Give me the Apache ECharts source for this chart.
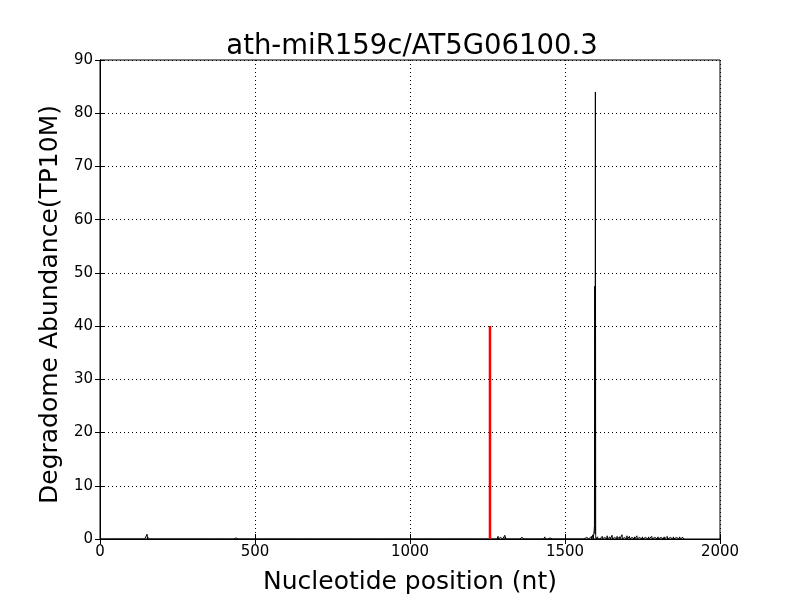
<!DOCTYPE html>
<html>
<head>
<meta charset="utf-8">
<script src="https://cdn.jsdelivr.net/npm/echarts@6/dist/echarts.min.js"></script>
<style>html,body{margin:0;padding:0;background:#fff}#c{width:800px;height:600px}</style>
</head>
<body>
<div id="c"></div>
<script>
const chartTitle = 'ath-miR159c/AT5G06100.3';
const xLabel = 'Nucleotide position (nt)';
const yLabel = 'Degradome Abundance(TP10M)';
const xTicks = [0, 500, 1000, 1500, 2000];
const yTicks = [0, 10, 20, 30, 40, 50, 60, 70, 80, 90];
const transcriptLength = 1885;
// nonzero degradome reads (position, abundance)
const readPositions = [65, 152, 154, 248, 439, 1268, 1284, 1292, 1306, 1308, 1320, 1361, 1400, 1435, 1452, 1474, 1503, 1520, 1548, 1570, 1585, 1590, 1594, 1595, 1596, 1597, 1598, 1599,
  1605, 1612, 1620, 1628, 1636, 1645, 1652, 1660, 1668, 1676, 1684, 1692, 1700, 1708, 1716, 1724, 1732, 1740, 1750, 1760, 1770, 1780, 1790, 1800, 1810, 1820, 1830, 1840, 1850, 1860, 1870, 1880];
const readValues = [0.2, 0.9, 0.4, 0.2, 0.2, 0.2, 0.5, 0.3, 0.7, 0.4, 0.2, 0.3, 0.2, 0.4, 0.2, 0.3, 0.3, 0.2, 0.3, 0.3, 0.5, 0.8, 1.5, 2.5, 47.5, 1.0, 84.0, 0.6,
  0.4, 0.3, 0.5, 0.3, 0.6, 0.4, 0.7, 0.3, 0.5, 0.4, 0.8, 0.3, 0.6, 0.5, 0.3, 0.4, 0.6, 0.3, 0.4, 0.3, 0.4, 0.5, 0.3, 0.4, 0.3, 0.4, 0.5, 0.3, 0.4, 0.3, 0.4, 0.3];
const cleavagePosition = 1258;
const cleavageAbundance = 40;

const lookup = {};
readPositions.forEach((p, i) => { lookup[p] = readValues[i]; });
const lineData = [];
for (let p = 1; p <= transcriptLength; p++) lineData.push([p, lookup[p] || 0]);

const chart = echarts.init(document.getElementById('c'), null, {renderer: 'canvas'});
const font = 'DejaVu Sans';
const tickStyle = {show: true, inside: true, length: 5, lineStyle: {color: '#000', width: 1}};
const gridStyle = {show: true, lineStyle: {color: '#000', type: [1, 3], width: 1}};
chart.setOption({
  animation: false,
  backgroundColor: '#fff',
  title: {text: chartTitle, left: 407, top: 28, textAlign: 'center',
    textStyle: {fontFamily: font, fontSize: 27.5, fontWeight: 'normal', color: '#000'}},
  grid: {left: 100, right: 80, top: 60, bottom: 60, show: true, borderColor: '#000', borderWidth: 1},
  xAxis: [{
    type: 'value', min: xTicks[0], max: xTicks[xTicks.length - 1], interval: 500,
    name: xLabel, nameLocation: 'middle', nameGap: 31,
    nameTextStyle: {fontFamily: font, fontSize: 25, color: '#000'},
    axisLine: {show: true, lineStyle: {color: '#000'}}, axisTick: tickStyle,
    axisLabel: {fontFamily: font, fontSize: 15, color: '#000', margin: 6, formatter: v => String(v)},
    splitLine: gridStyle
  }, {
    type: 'value', position: 'top', min: xTicks[0], max: xTicks[xTicks.length - 1], interval: 500,
    axisLine: {show: true, lineStyle: {color: '#000'}}, axisTick: tickStyle,
    axisLabel: {show: false}, splitLine: {show: false}
  }],
  yAxis: [{
    type: 'value', min: yTicks[0], max: yTicks[yTicks.length - 1], interval: 10,
    name: yLabel, nameLocation: 'middle', nameGap: 34,
    nameTextStyle: {fontFamily: font, fontSize: 25, color: '#000', padding: [0, 10, 0, 0]},
    axisLine: {show: true, lineStyle: {color: '#000'}}, axisTick: tickStyle,
    axisLabel: {fontFamily: font, fontSize: 15, color: '#000', margin: 7, formatter: v => String(v)},
    splitLine: gridStyle
  }, {
    type: 'value', position: 'right', min: yTicks[0], max: yTicks[yTicks.length - 1], interval: 10,
    axisLine: {show: true, lineStyle: {color: '#000'}}, axisTick: tickStyle,
    axisLabel: {show: false}, splitLine: {show: false}
  }],
  series: [{
    type: 'line', data: lineData, showSymbol: false, symbol: 'none',
    lineStyle: {color: '#000', width: 1}, xAxisIndex: 0, yAxisIndex: 0, z: 3
  }, {
    type: 'line', data: [[cleavagePosition, 0], [cleavagePosition, cleavageAbundance]],
    showSymbol: false, symbol: 'none', lineStyle: {color: '#ff0000', width: 2.5}, xAxisIndex: 0, yAxisIndex: 0, z: 4
  }]
});
</script>
</body>
</html>
